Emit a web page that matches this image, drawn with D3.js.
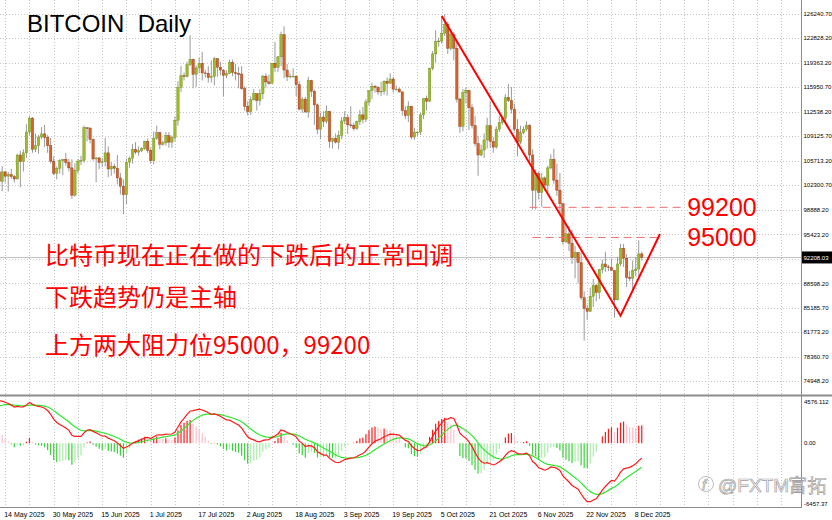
<!DOCTYPE html>
<meta charset="utf-8">
<style>
body { margin: 0; background: #fff; }
svg { display: block; }
text { font-family: "Liberation Sans", Arial, sans-serif; }
.axis text { font-size: 7px; fill: #000; }
.axis text.price { font-size: 6px; }
.cn { font-family: "Noto Sans CJK SC", sans-serif; fill: #f00; font-size: 24px; }
</style>
<svg width="832" height="520"></svg>
<script src="https://d3js.org/d3.v7.min.js"></script>
<script>

// daily candles, first one is 12 May 2025
var firstDay = "2025-05-12";

var open = [
  104150,102800,104150,103550,103750,103500,103150,106500,105600,106800,109700,111650,107300,107800,109000,109450,108950,107800,105650,103950,
  104650,105700,105900,105450,104700,100900,104350,105650,105750,110300,110250,108700,105950,106100,105450,105550,106800,104550,104900,104650,103300,102150,100950,105500,106050,107300,106900,107100,107400,108400,
  107150,105700,108850,109600,108000,108200,109200,108300,108950,111350,115950,117550,117450,119100,119850,117750,118650,119300,117950,117900,117300,117450,119950,118750,118350,117600,117900,119450,118000,117850,117800,
  115750,113300,112550,114200,115050,114100,115050,117500,116700,116500,119300,118700,120200,123300,118350,117400,117500,117500,116300,112900,114300,112500,116900,115400,113500,110100,111800,111200,112600,108400,108800,
  108300,109250,111250,111700,110700,110650,110200,111150,112100,111500,113900,115500,116100,115950,115300,115400,116800,116500,117100,115700,115700,115300,112700,112000,113300,109000,109700,109700,112100,114400,
  114000,118600,120600,122300,122400,123500,124700,121400,123300,121400,114300,110500,115200,115500,113100,110600,108100,106500,107200,108600,110600,108400,107600,110100,111000,111600,114500,114100,112900,110100,108300,
  109600,110100,110600,106500,101600,103900,101300,103300,102300,104700,105900,103000,101600,99700,94400,95500,94200,92200,92900,91500,86600,85100,84700,86800,88300,87300,90500,91300,90900,90800,
  90400,86300,91300,93500,92100,89400,89300,90400,90600,92700
];
var high = [
  105750,104950,104300,104150,104550,103700,106650,107100,107300,110800,111950,111800,109500,109300,110400,110700,109300,108900,106300,104900,
  105900,105950,106800,105950,105900,105350,105950,106400,110600,110400,110400,108800,106200,106200,106100,108900,107700,105500,105300,106500,104000,103100,106000,106300,108000,108300,107700,107600,108500,108800,
  107550,109800,110600,109750,108500,109700,109700,109200,111900,116800,118900,118000,119500,123200,119950,119000,120100,120900,118400,118900,119700,120200,120000,119500,118500,118300,119800,119800,119200,118800,118900,
  116100,114000,114700,115700,115100,115700,117700,117900,117700,119300,122300,120300,123700,124450,119200,117900,118600,117600,116800,114600,114600,117400,117000,115600,113700,112400,112600,113400,112600,108900,109500,
  109900,111800,112600,112200,113300,111000,111300,112800,113200,114300,115400,116600,116300,116100,116700,116900,117300,117900,117400,116200,115900,115400,113300,114000,113400,110300,109800,112400,114300,114800,
  118700,121000,123900,122900,125700,126200,125100,124100,123700,122500,114500,115700,115900,115600,113600,111900,109200,107900,109500,111700,114000,109000,110500,112000,111900,115000,116400,116000,113600,111500,110600,
  110500,111200,110800,107300,104500,104200,104000,103500,105000,106600,107400,105300,104000,99800,96800,96600,96000,93800,92900,93100,87500,85600,88000,89200,88500,90600,91900,93000,91200,92000,
  90400,92300,94100,94100,92700,90300,91800,92300,94600,93000
];
var low = [
  100800,101450,102650,101400,103150,102650,103100,102000,104200,106100,109300,106800,106900,106700,108700,107600,106800,105300,103700,103100,
  103900,103700,105000,104200,100400,100700,103900,105100,105400,108400,108100,105700,102700,104500,104800,104900,103400,103600,103900,102400,101000,98250,99650,104700,105300,106600,106400,106900,107200,106800,
  105300,105200,108600,107300,107800,107800,107500,107500,108400,110600,115300,116900,117300,118900,115800,116000,117900,116900,117300,116600,116600,116200,117400,117600,114700,117200,117800,117500,116900,115800,115600,
  112700,112000,112100,114100,112700,113400,114300,115900,116300,116500,118100,118100,118900,117200,116800,117200,117300,114700,112700,112400,112400,111700,114600,110700,109400,108700,110400,110900,107500,107400,108100,
  107300,108700,110800,109400,110300,109900,110000,110700,110900,111100,113400,114300,115200,114900,114700,114900,114800,116400,115200,115500,115200,112000,111500,111100,108700,108600,109100,109300,111500,112700,
  113900,118300,119400,121600,122000,123100,120600,121100,119700,113800,109600,109800,113700,110000,110200,107700,103600,106300,106100,107400,107500,106800,107400,109700,110700,111200,113900,112300,109800,106300,108000,
  109400,109800,105300,98900,98900,100300,99300,101500,101300,104500,102500,100800,98100,94000,94200,93100,91300,89300,88600,86300,80600,83500,84600,85300,86100,86400,90000,90200,90300,90300,
  83800,86200,91000,90900,88100,88900,87700,89600,89600,91800
];
var close = [
  102800,104150,103550,103750,103500,103150,106500,105600,106800,109700,111650,107300,107800,109000,109450,108950,107800,105650,103950,104650,
  105700,105900,105450,104700,100900,104350,105650,105750,110300,110250,108700,105950,106100,105450,105550,106800,104550,104900,104650,103300,102150,100950,105500,106050,107300,106900,107100,107400,108400,107150,
  105700,108850,109600,108000,108200,109200,108300,108950,111350,115950,117550,117450,119100,119850,117750,118650,119300,117950,117900,117300,117450,119950,118750,118350,117600,117900,119450,118000,117850,117800,115750,
  113300,112550,114200,115050,114100,115050,117500,116700,116500,119300,118700,120200,123300,118350,117400,117500,117500,116300,112900,114300,112500,116900,115400,113500,110100,111800,111200,112600,108400,108800,108300,
  109250,111250,111700,110700,110650,110200,111150,112100,111500,113900,115500,116100,115950,115300,115400,116800,116500,117100,115700,115700,115300,112700,112000,113300,109000,109700,109700,112100,114400,114000,
  118600,120600,122300,122400,123500,124700,121400,123300,121400,114300,110500,115200,115500,113100,110600,108100,106500,107200,108600,110600,108400,107600,110100,111000,111600,114500,114100,112900,110100,108300,109600,
  110100,110600,106500,101600,103900,101300,103300,102300,104700,105900,103000,101600,99700,94400,95500,94200,92200,92900,91500,86600,85100,84700,86800,88300,87300,90500,91300,90900,90800,90400,
  86300,91300,93500,92100,89400,89300,90400,90600,92700,92208.03
];

// MACD(12,26,9) state on the day before the first candle
var seedEma12 = 100100, seedEma26 = 95700, seedSignal = 3600;

var priceTicks = [126240.70, 122828.20, 119363.20, 115950.70, 112538.20, 109125.70, 105713.20, 102300.70,
                  98888.20, 95423.20, 92010.70, 88598.20, 85185.70, 81773.20, 78360.70, 74948.20];
var lastPrice = 92208.03;
var macdTicks = [4576.112, 0, -6457.37];
var macdLabels = ["4576.112", "0.00", "-6457.37"];
var dateTicks = ["2025-05-14", "2025-05-30", "2025-06-15", "2025-07-01", "2025-07-17", "2025-08-02", "2025-08-18",
                 "2025-09-03", "2025-09-19", "2025-10-05", "2025-10-21", "2025-11-06", "2025-11-22", "2025-12-08"];

// drawn objects
var trendDates = ["2025-10-05", "2025-12-03", "2025-12-16"];
var trendPrices = [125890, 84080, 95480];
var levelValues = [99200, 95000];
var levelFrom = ["2025-11-03", "2025-11-04"];
var levelTo = ["2025-12-23", "2025-12-16"];
var notes = ["比特币现在正在做的下跌后的正常回调", "下跌趋势仍是主轴", "上方两大阻力位95000，99200"];

var parse = d3.utcParse("%Y-%m-%d"),
    fmtDate = d3.utcFormat("%-d %b %Y"),
    start = parse(firstDay),
    days = close.map(function(d, i) { return d3.utcDay.offset(start, i); });

var svg = d3.select("svg"),
    plotRight = 801,
    mainTop = 0, mainBottom = 394,
    subTop = 398, subBottom = 507;

var x = d3.scaleUtc()
    .domain([parse("2025-05-14"), parse("2025-12-08")])
    .range([5.2, 635.7]);

var y = d3.scaleLinear()
    .domain([73160, 128124])
    .range([mainBottom, mainTop]);

var y2 = d3.scaleLinear()
    .domain([-6457.37, 4576.112])
    .range([subBottom, subTop]);

// MACD from the closes
function ema(values, n, seed) {
  var k = 2 / (n + 1), prev = seed;
  return values.map(function(v) { return prev = prev + (v - prev) * k; });
}
var e12 = ema(close, 12, seedEma12),
    e26 = ema(close, 26, seedEma26),
    macd = close.map(function(c, i) { return e12[i] - e26[i]; }),
    signal = ema(macd, 9, seedSignal),
    hist = macd.map(function(m, i) { return 2 * (m - signal[i]); });

svg.append("defs").append("clipPath").attr("id", "clipMain")
  .append("rect").attr("x", 0).attr("y", mainTop).attr("width", plotRight).attr("height", mainBottom - mainTop);
svg.select("defs").append("clipPath").attr("id", "clipSub")
  .append("rect").attr("x", 0).attr("y", subTop).attr("width", plotRight).attr("height", subBottom - subTop);

// grid
var gridDays = d3.range(0, 264, 8).map(function(k) { return d3.utcDay.offset(parse("2025-05-14"), k); })
    .filter(function(d) { return x(d) < plotRight; });

var grid = svg.append("g")
    .attr("stroke", "#c6c6c6")
    .attr("stroke-dasharray", "1,2")
    .attr("stroke-width", 1);

grid.selectAll(".gx").data(gridDays).enter().append("line")
    .attr("x1", function(d) { return Math.round(x(d)) + 0.5; })
    .attr("x2", function(d) { return Math.round(x(d)) + 0.5; })
    .attr("y1", mainTop).attr("y2", subBottom);

grid.selectAll(".gy").data(priceTicks).enter().append("line")
    .attr("x1", 0).attr("x2", plotRight)
    .attr("y1", function(d) { return Math.round(y(d)) + 0.5; })
    .attr("y2", function(d) { return Math.round(y(d)) + 0.5; });

// bid line
svg.append("line")
    .attr("x1", 0).attr("x2", plotRight)
    .attr("y1", Math.round(y(lastPrice)) + 0.5).attr("y2", Math.round(y(lastPrice)) + 0.5)
    .attr("stroke", "#c0c0c0");

// candles
var candles = svg.append("g").attr("clip-path", "url(#clipMain)")
  .selectAll("g")
  .data(days)
  .enter().append("g");

candles.append("line")
    .attr("x1", function(d) { return x(d); })
    .attr("x2", function(d) { return x(d); })
    .attr("y1", function(d, i) { return y(high[i]); })
    .attr("y2", function(d, i) { return y(low[i]); })
    .attr("stroke", "#9a9a9a")
    .attr("stroke-width", 1);

candles.append("rect")
    .attr("x", function(d) { return x(d) - 1.2; })
    .attr("width", 2.4)
    .attr("y", function(d, i) { return y(Math.max(open[i], close[i])); })
    .attr("height", function(d, i) { return Math.max(0.8, Math.abs(y(open[i]) - y(close[i]))); })
    .attr("fill", function(d, i) { return close[i] >= open[i] ? "#9bbb2a" : "#d8612a"; })
    .attr("stroke", function(d, i) { return close[i] >= open[i] ? "#6d8a1c" : "#8a3a16"; })
    .attr("stroke-width", 0.4);

// resistance levels
svg.append("g").selectAll("line")
  .data(levelValues)
  .enter().append("line")
    .attr("x1", function(d, i) { return x(parse(levelFrom[i])); })
    .attr("x2", function(d, i) { return x(parse(levelTo[i])); })
    .attr("y1", function(d) { return y(d); })
    .attr("y2", function(d) { return y(d); })
    .attr("stroke", "#f07070")
    .attr("stroke-dasharray", "8,5")
    .attr("stroke-width", 1);

svg.append("g").selectAll("text")
  .data(levelValues)
  .enter().append("text")
    .attr("x", x(parse("2025-12-25")))
    .attr("y", function(d) { return y(d) + 9; })
    .attr("fill", "#f00")
    .attr("font-size", "25px")
    .text(function(d) { return d; });

// trend lines
svg.append("path")
    .datum(trendDates)
    .attr("fill", "none")
    .attr("stroke", "#f00")
    .attr("stroke-width", 2)
    .attr("d", d3.line()
        .x(function(d) { return x(parse(d)); })
        .y(function(d, i) { return y(trendPrices[i]); }));

// title and notes
svg.append("text")
    .attr("x", 27).attr("y", 32)
    .attr("font-size", "24px")
    .attr("fill", "#000")
    .style("white-space", "pre")
    .text("BITCOIN  Daily");

svg.append("g").selectAll("text")
  .data(notes)
  .enter().append("text")
    .attr("class", "cn")
    .attr("x", 45)
    .attr("y", function(d, i) { return [264, 306, 354][i]; })
    .text(function(d) { return d; });

// MACD panel
var sub = svg.append("g").attr("clip-path", "url(#clipSub)");

sub.selectAll(".bar")
  .data(days)
  .enter().append("rect")
    .attr("x", function(d) { return x(d) - 0.6; })
    .attr("width", 1.2)
    .attr("y", function(d, i) { return y2(Math.max(0, hist[i])); })
    .attr("height", function(d, i) { return Math.abs(y2(hist[i]) - y2(0)); })
    .attr("fill", function(d, i) {
      var h = hist[i], p = i ? hist[i - 1] : h;
      if (h >= 0) return h >= p ? "#ff1a1a" : "#ffc0cb";
      return h <= p ? "#3ccf3c" : "#a8eca8";
    });

sub.append("path")
    .datum(signal)
    .attr("fill", "none")
    .attr("stroke", "#2ee82e")
    .attr("stroke-width", 1.2)
    .attr("d", d3.line().x(function(d, i) { return x(days[i]); }).y(function(d) { return y2(d); }));

sub.append("path")
    .datum(macd)
    .attr("fill", "none")
    .attr("stroke", "#ff1a1a")
    .attr("stroke-width", 1.2)
    .attr("d", d3.line().x(function(d, i) { return x(days[i]); }).y(function(d) { return y2(d); }));

// frame
svg.append("line").attr("x1", 0).attr("x2", 832).attr("y1", 395.5).attr("y2", 395.5)
    .attr("stroke", "#8c8c8c").attr("stroke-width", 2);
svg.append("line").attr("x1", 0).attr("x2", plotRight).attr("y1", subBottom + 0.5).attr("y2", subBottom + 0.5)
    .attr("stroke", "#8c8c8c");
svg.append("line").attr("x1", plotRight + 0.5).attr("x2", plotRight + 0.5).attr("y1", 0).attr("y2", subBottom + 1)
    .attr("stroke", "#8c8c8c");

// price axis
var axis = svg.append("g").attr("class", "axis");

axis.selectAll(".py").data(priceTicks).enter().append("text")
    .attr("class", "price")
    .attr("x", 803.5)
    .attr("y", function(d) { return y(d) + 2.2; })
    .text(function(d) { return d.toFixed(2); });

axis.append("rect")
    .attr("x", plotRight + 1).attr("y", y(lastPrice) - 6)
    .attr("width", 31).attr("height", 12)
    .attr("fill", "#000");
axis.append("text")
    .attr("class", "price")
    .attr("x", 803.5).attr("y", y(lastPrice) + 2.2)
    .style("fill", "#fff")
    .text(lastPrice.toFixed(2));

axis.selectAll(".my").data(macdTicks).enter().append("text")
    .attr("class", "price")
    .attr("x", 804)
    .attr("y", function(d, i) { return y2(d) + [6, 2.2, -1][i]; })
    .text(function(d, i) { return macdLabels[i]; });

axis.selectAll(".dx").data(dateTicks).enter().append("text")
    .attr("x", function(d) { return x(parse(d)) - 1; })
    .attr("y", 517)
    .text(function(d) { return fmtDate(parse(d)); });

// watermark
var wm = svg.append("g").attr("fill", "#fff").attr("stroke", "#a0a0a0").attr("stroke-width", 0.7);
wm.append("circle").attr("cx", 706).attr("cy", 484).attr("r", 7.5).attr("fill", "none");
wm.append("text").attr("x", 702).attr("y", 490).attr("font-size", "15px").attr("font-style", "italic").text("f");
wm.append("text")
    .attr("x", 718).attr("y", 492)
    .attr("font-family", "'Noto Sans CJK SC', sans-serif")
    .attr("font-size", "19px")
    .text("@FXTM富拓");

</script>
